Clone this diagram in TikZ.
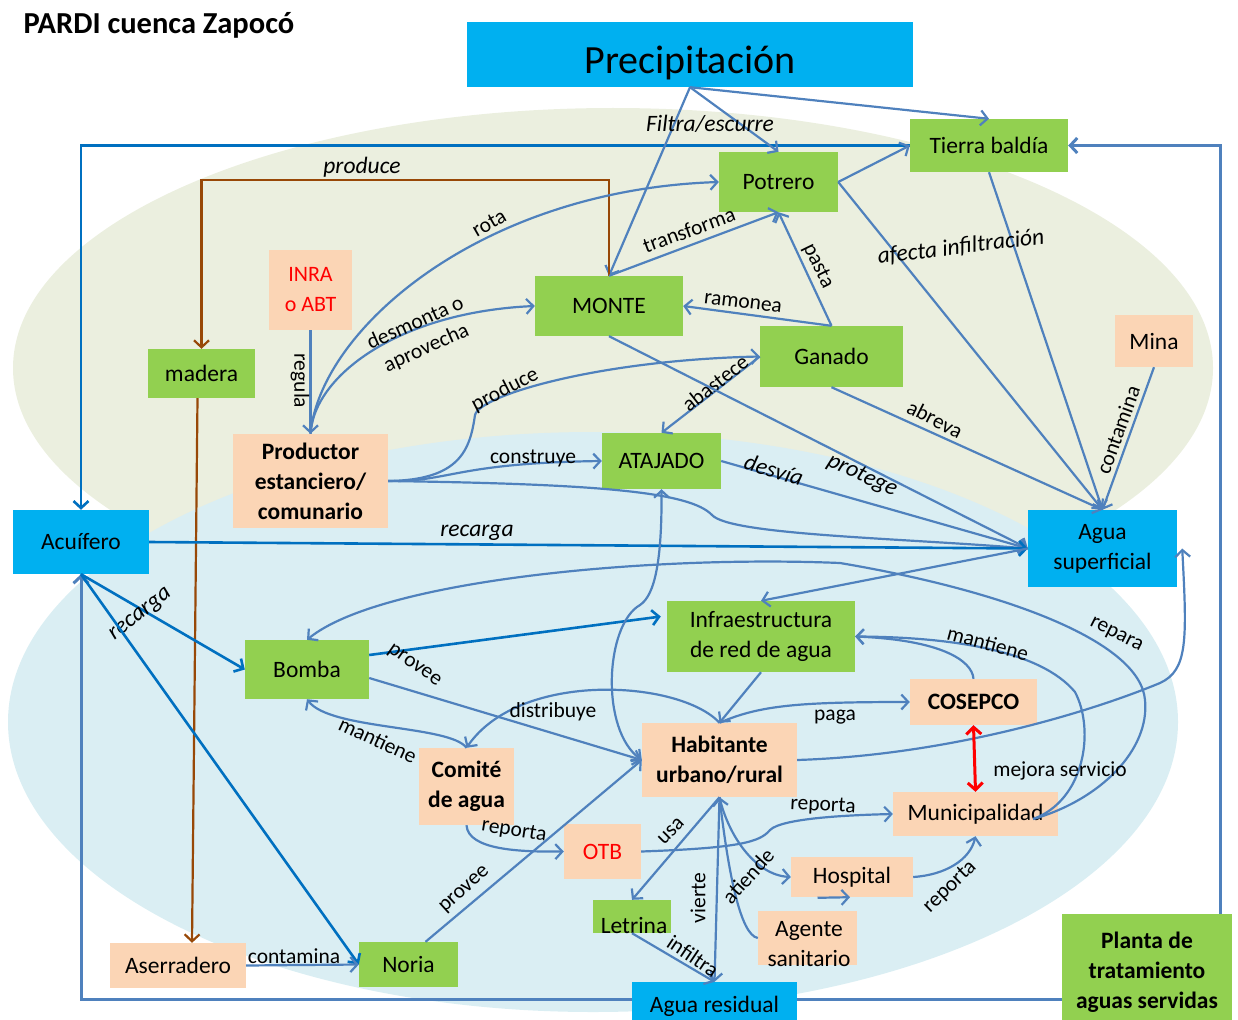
\documentclass[tikz,border=0pt]{standalone}
\usepackage{fontspec}
\setmainfont{Carlito}
\usetikzlibrary{arrows.meta}
\pgfdeclarelayer{fondo}
\pgfdeclarelayer{lineas}
\pgfsetlayers{fondo,lineas,main}
\definecolor{azulcaja}{HTML}{00B0F0}
\definecolor{verdecaja}{HTML}{92D050}
\definecolor{pielcaja}{HTML}{FBD5B5}
\definecolor{fondoverde}{HTML}{EBEFDF}
\definecolor{fondoazul}{HTML}{DAEEF3}
\definecolor{azulflecha}{HTML}{4F81BD}
\definecolor{azuloscuro}{HTML}{0070C0}
\definecolor{cafe}{HTML}{984807}
\newcommand{\fnodo}{\fontsize{23.5}{30}\selectfont}
\newcommand{\fetiq}{\fontsize{21.5}{27}\selectfont}
\newcommand{\fetiqit}{\fontsize{23.5}{27}\selectfont\itshape}

\begin{document}
\begin{tikzpicture}[x=1pt,y=-1pt,
	>={Straight Barb[length=7pt,width=15pt]},
	caja/.style={inner sep=0pt,align=center,font=\fnodo},
	verde/.style={caja,fill=verdecaja},
	azul/.style={caja,fill=azulcaja},
	piel/.style={caja,fill=pielcaja},
	negrita/.style={font=\fnodo\bfseries},
	flecha/.style={draw=azulflecha,line width=2.2pt,->},
	flecha2/.style={flecha,<->},
	flechaosc/.style={draw=azuloscuro,line width=2.6pt,->},
	flechacafe/.style={draw=cafe,line width=2.2pt,->},
	marco/.style={draw=azulflecha,line width=3pt,->},
	rojaflecha/.style={draw=red,line width=3pt,<->},
	etiq/.style={inner sep=0pt,font=\fetiq},
	etiqit/.style={inner sep=0pt,font=\fetiqit}]

	\useasboundingbox (0,0) rectangle (1238,1019);

	\begin{pgfonlayer}{fondo}
	\fill[fondoverde] (613,368) ellipse [x radius=600pt,y radius=260pt];
	\fill[fondoazul] (593,722) ellipse [x radius=585pt,y radius=290pt];
	\end{pgfonlayer}

	\node[anchor=west,font=\fontsize{30.5}{32}\selectfont\bfseries] (titulo) at (20,25) {PARDI cuenca Zapocó};
	\node[azul,font=\fontsize{40}{44}\selectfont,text height=46pt,text depth=8pt,minimum width=446,minimum height=65] (precip) at (690,54.5) {Precipitación};
	\node[verde,minimum width=158,minimum height=53] (tierra) at (989,145.5) {Tierra baldía};
	\node[verde,minimum width=119,minimum height=60] (potrero) at (778.5,182) {Potrero};
	\node[verde,minimum width=148,minimum height=60] (monte) at (609,306) {MONTE};
	\node[verde,minimum width=143,minimum height=61] (ganado) at (831.5,356.5) {Ganado};
	\node[piel,minimum width=78,minimum height=52] (mina) at (1154,341) {Mina};
	\node[piel,text=red,font=\fontsize{22}{30}\selectfont,minimum width=83,minimum height=80] (inra) at (310.5,290) {INRA\\o ABT};
	\node[verde,minimum width=107,minimum height=49] (madera) at (201.5,373.5) {madera};
	\node[piel,negrita,minimum width=155,minimum height=94] (productor) at (310.5,481) {Productor\\estanciero/\\comunario};
	\node[verde,minimum width=119,minimum height=56] (atajado) at (661.5,461) {ATAJADO};
	\node[azul,minimum width=136,minimum height=64] (acuifero) at (81,542) {Acuífero};
	\node[azul,minimum width=149,minimum height=77] (aguasup) at (1102.5,548.5) {Agua\\superficial};
	\node[verde,minimum width=188,minimum height=71] (infra) at (761,636.5) {Infraestructura\\de red de agua};
	\node[verde,minimum width=124,minimum height=59] (bomba) at (307,669.5) {Bomba};
	\node[piel,negrita,minimum width=127,minimum height=46] (cosepco) at (973.5,702) {COSEPCO};
	\node[piel,negrita,minimum width=155,minimum height=74] (habitante) at (719.5,760) {Habitante\\urbano/rural};
	\node[piel,negrita,minimum width=95,minimum height=77] (comite) at (466.5,786.5) {Comité\\de agua};
	\node[piel,minimum width=165,minimum height=44] (municip) at (975.5,814) {Municipalidad};
	\node[piel,text=red,minimum width=77,minimum height=55] (otb) at (602.5,851.5) {OTB};
	\node[piel,minimum width=122,minimum height=40] (hospital) at (852,877) {Hospital};
	\node[piel,minimum width=99,minimum height=54] (agente) at (807.5,938) {};
	\node[caja,anchor=base] (agentetxt) at (809,966) {Agente\\sanitario};
	\node[verde,minimum width=78,minimum height=33] (letrina) at (632,916.5) {};
	\node[caja,anchor=base] (letrinatxt) at (634,933) {Letrina};
	\node[azul,minimum width=165,minimum height=48] (aguares) at (714.5,1006) {Agua residual};
	\node[piel,minimum width=136,minimum height=45] (aserradero) at (178,965.5) {Aserradero};
	\node[verde,minimum width=99,minimum height=45] (noria) at (408.5,964.5) {Noria};
	\node[verde,negrita,minimum width=170,minimum height=116] (planta) at (1147,972) {Planta de\\tratamiento\\aguas servidas};

	% marco exterior
	\begin{pgfonlayer}{lineas}
	\draw[flechaosc] (tierra.west) -| (acuifero.north);
	\draw[marco] ([yshift=-27pt]planta.west) -| (acuifero.south);
	\draw[marco] ([xshift=73pt]planta.north) |- (tierra.east);
	\end{pgfonlayer}

	\draw[flecha] (precip.south) -- (potrero.north);
	\draw[flecha] (precip.south) -- (monte.north);
	\draw[flecha] (precip.south) -- (tierra.north);
	\node[etiqit] at (710,124) {Filtra/escurre};

	\draw[flechacafe] (monte.north) -- ++(0,-96) -| (madera.north);
	\node[etiqit] at (362,167) {produce};
	\draw[flechacafe] ([xshift=-4pt]madera.south) -- ([xshift=14pt]aserradero.north);

	\draw[flecha] (inra.south) -- (productor.north);
	\node[etiq,rotate=-90] at (300,381) {regula};
	\draw[flecha] (productor.north) .. controls (320,330) and (480,190) .. (potrero.west);
	\node[etiq,rotate=30] at (489,223) {rota};
	\draw[flecha] (productor.north) .. controls (314,375) and (400,312) .. (monte.west);
	\node[etiq,rotate=24,align=center] at (421,336) {desmonta o\\aprovecha};

	\draw[flecha] (monte.north) -- (potrero.south);
	\node[etiq,rotate=20] at (689,230) {transforma};
	\draw[flecha] (ganado.north) -- (potrero.south);
	\node[etiq,rotate=-64] at (818,266) {pasta};
	\draw[flecha] (ganado.north) -- (monte.east);
	\node[etiq,rotate=-7] at (743,303) {ramonea};

	\draw[flecha] (productor.east) .. controls (460,480) and (470,450) .. (475,415) .. controls (480,395) and (600,360) .. (ganado.west);
	\node[etiq,rotate=27] at (505,390) {produce};
	\draw[flecha] (ganado.west) -- (atajado.north);
	\node[etiq,rotate=38] at (715,383) {abastece};
	\draw[flecha] (productor.east) .. controls (450,482) and (455,463) .. (atajado.west);
	\node[etiq,anchor=base] at (533,463) {construye};

	% agua superficial
	\draw[flecha] (potrero.east) -- (tierra.west);
	\draw[flecha] (potrero.east) -- (aguasup.north);
	\draw[flecha] (tierra.south) -- (aguasup.north);
	\node[etiqit,rotate=7] at (961,247) {afecta infiltración};
	\draw[flecha] (mina.south) -- (aguasup.north);
	\node[etiq,rotate=70] at (1118,430) {contamina};
	\draw[flecha] (ganado.south) -- (aguasup.north);
	\node[etiq,rotate=-27] at (935,419) {abreva};
	\draw[flecha] (monte.south) -- (aguasup.west);
	\node[etiqit,rotate=-25] at (862,476) {protege};
	\draw[flecha] (atajado.east) -- (aguasup.west);
	\node[etiqit,rotate=-17] at (774,470) {desvía};
	\draw[flecha] (productor.east) .. controls (600,484) and (690,492) .. (712,515) .. controls (730,535) and (900,538) .. (aguasup.west);
	\draw[flechaosc] (acuifero.east) -- (aguasup.west);
	\node[etiqit] at (477,533) {recarga};
	\draw[flecha] (aguasup.west) -- (infra.north);
	\draw[flecha] (habitante.east) .. controls (950,755) and (1090,712) .. (1160,683) .. controls (1188,670) and (1187,640) .. ([xshift=5pt]aguasup.east);

	% acuifero y bomba
	\draw[flechaosc] (acuifero.south) -- (bomba.west);
	\node[etiqit,rotate=38] at (141,615) {recarga};
	\draw[flechaosc] (acuifero.south) -- (noria.west);
	\draw[flechaosc] ([yshift=14.5pt]bomba.east) -- ([xshift=-6pt,yshift=20pt]infra.west);
	\draw[flecha] ([yshift=-8.5pt]bomba.east) -- (habitante.west);
	\node[etiq,rotate=-35] at (414,666) {provee};

	\draw[flecha] ([xshift=-25pt,yshift=-5pt]municip.east) .. controls (1100,800) and (1150,750) .. (1145,700) .. controls (1140,640) and (1000,590) .. (840,563) .. controls (650,555) and (380,580) .. (bomba.north);
	\node[etiq,rotate=-27] at (1116,635) {repara};
	\draw[flecha] ([xshift=-25pt,yshift=-5pt]municip.east) .. controls (1085,800) and (1095,730) .. (1075,692) .. controls (1040,650) and (950,637) .. (infra.east);
	\node[etiq,rotate=-15] at (988,643) {mantiene};
	\draw[flecha] (cosepco.north) .. controls (972,660) and (940,640) .. (infra.east);

	% habitante
	\draw[flecha] (infra.south) -- (habitante.north);
	\draw[flecha] (habitante.north) .. controls (760,705) and (800,702) .. (cosepco.west);
	\node[etiq] at (835,717) {paga};
	\draw[flecha] (habitante.north) .. controls (680,680) and (520,670) .. (comite.north);
	\node[etiq] at (553,712) {distribuye};
	\draw[flecha] (comite.north) .. controls (450,725) and (330,730) .. (bomba.south);
	\node[etiq,rotate=-25] at (378,740) {mantiene};
	\draw[flecha2] (atajado.south) .. controls (662,560) and (655,595) .. (640,605) .. controls (605,625) and (600,730) .. (habitante.west);
	\draw[rojaflecha] (cosepco.south) -- (municip.north);
	\node[etiq] at (1060,771) {mejora servicio};

	\draw[flecha] (comite.south) .. controls (468,850) and (520,852) .. (otb.west);
	\node[etiq,rotate=-9] at (514,831) {reporta};
	\draw[flecha] (otb.east) .. controls (740,848) and (760,842) .. (770,830) .. controls (782,818) and (850,815) .. (municip.west);
	\node[etiq,rotate=-3] at (823,806) {reporta};
	\draw[flecha] ([xshift=17pt]noria.north) -- (habitante.west);
	\node[etiq,rotate=42] at (465,890) {provee};

	\draw[flecha] (habitante.south) -- (letrina.north);
	\node[etiq,rotate=45] at (671,831) {usa};
	\draw[flecha] (habitante.south) -- (aguares.north);
	\node[etiq,rotate=90] at (698,898) {vierte};
	\draw[flecha] (letrina.south) -- (aguares.north);
	\node[etiq,rotate=-34] at (693,956) {infiltra};

	\draw[flecha] (habitante.south) .. controls (728,835) and (755,875) .. (hospital.west);
	\draw[flecha] (agente.west) .. controls (740,935) and (728,870) .. (habitante.south);
	\node[etiq,rotate=48] at (748,876) {atiende};
	\draw[flecha] ([xshift=10pt,yshift=13pt]agente.north) -- ([xshift=-2pt]hospital.south);
	\draw[flecha] (hospital.east) .. controls (945,875) and (970,860) .. (municip.south);
	\node[etiq,rotate=44] at (950,887) {reporta};

	\draw[flecha] (aserradero.east) -- (noria.west);
	\node[etiq,anchor=base] at (294,963) {contamina};
\end{tikzpicture}
\end{document}
